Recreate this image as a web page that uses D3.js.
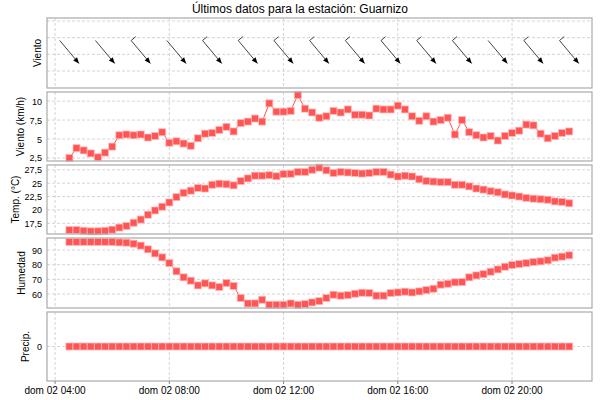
<!DOCTYPE html>
<html><head><meta charset="utf-8">
<script src="https://cdn.jsdelivr.net/npm/d3@7"></script>
<style>
body{margin:0;background:#fff}
text{font-family:"Liberation Sans",Arial,sans-serif;fill:#000}
</style></head>
<body><svg id="chart" width="600" height="400"></svg>
<script>
// readings every 15 min from dom 02 04:30
const startTime = new Date(2024, 5, 2, 4, 30);
const stepMinutes = 15;
const windSpeed = [2.5,3.8,3.5,3.1,2.6,3.2,4.0,5.5,5.6,5.5,5.6,5.2,5.4,5.9,4.5,4.7,4.4,4.1,5.1,5.7,5.8,6.2,6.6,6.0,7.1,7.3,7.7,7.3,9.7,8.6,8.6,8.7,10.8,
  9.0,8.5,7.8,8.0,8.7,8.5,8.9,8.2,8.2,8.1,9.0,8.9,8.9,9.4,8.9,8.0,7.4,8.0,7.3,7.5,7.8,5.6,7.5,5.9,5.5,5.2,5.4,4.8,5.4,5.8,6.1,6.9,6.8,5.7,5.1,5.4,5.8,6.0];
const temperature = [16.25,16.25,16.1,16.0,16.0,16.1,16.3,16.7,17.0,17.6,18.2,19.1,19.9,20.6,21.4,22.4,23.2,23.6,24.1,24.0,24.7,24.9,24.8,24.6,25.4,25.9,26.4,26.4,26.5,26.3,26.7,26.75,27.1,
  27.1,27.5,27.9,27.4,26.9,27.1,27.0,26.9,26.8,26.9,27.1,27.1,26.6,26.25,26.4,26.25,25.75,25.4,25.3,25.2,25.2,24.7,24.7,24.4,24.0,23.8,23.5,23.3,22.9,22.7,22.5,22.25,22.1,22.0,21.9,21.6,21.5,21.25];
const humidity = [95.5,95.5,95.5,95.5,95.5,95.5,95.5,95.2,95,94.3,93,90.5,87.7,85,81.1,75.5,71.4,69.1,65.9,67.3,65.9,64.8,67.5,65.5,57.3,53.6,53.6,56.1,52.7,52.7,52.7,53.6,52.7,
  53.2,54.3,55.2,57.3,59.5,58.9,59.3,60.2,60.9,60.7,58.9,58.9,60.7,61.1,61.6,61.1,61.8,62.7,63.6,66.4,67,68,68.2,71.4,72.7,73.6,75.2,76.8,78.6,79.8,80.5,81.1,81.8,82.3,83,84.8,85.5,86.4];
const precipitation = windSpeed.map(() => 0);
// wind direction (degrees, from) every 5th reading
const windDir = [320,320,320,320,320,320,320,320,320,320,320,320,320,320,320];
const xTicks = [new Date(2024,5,2,4), new Date(2024,5,2,8), new Date(2024,5,2,12), new Date(2024,5,2,16), new Date(2024,5,2,20)];

const times = windSpeed.map((d, i) => new Date(startTime.getTime() + i * stepMinutes * 60000));
const svg = d3.select("#chart");
const left = 47, right = 592;
const x = d3.scaleTime().domain([new Date(2024,5,2,3,43), new Date(2024,5,2,22,48)]).range([left, right]);
const red = "#ff5555";

svg.append("text").attr("x", 300).attr("y", 13).attr("text-anchor", "middle")
  .style("font-size", "12px").text("Últimos datos para la estación: Guarnizo");

const panels = [
  {top: 18, bottom: 88, label: "Viento", domain: [-1.02, 3.18], ticks: [0,1,2,3], showTicks: false, lx: 41},
  {top: 92, bottom: 161, label: "Viento (km/h)", domain: [2.1, 11.2], ticks: [2.5,5,7.5,10], data: windSpeed, lx: 24},
  {top: 165, bottom: 234, label: "Temp. (°C)", domain: [15.5, 28.4], ticks: [17.5,20,22.5,25,27.5], data: temperature, lx: 19},
  {top: 238, bottom: 308, label: "Humedad", domain: [50.5, 98.2], ticks: [60,70,80,90], data: humidity, lx: 25},
  {top: 312, bottom: 381, label: "Precip.", domain: [-1, 1], ticks: [0], data: precipitation, lx: 29}
];

panels.forEach(p => {
  const y = d3.scaleLinear().domain(p.domain).range([p.bottom, p.top]);
  const g = svg.append("g");
  g.selectAll(".vg").data(xTicks).enter().append("line")
    .attr("x1", d => x(d)).attr("x2", d => x(d)).attr("y1", p.top).attr("y2", p.bottom)
    .attr("stroke", "#d4d4d4").attr("stroke-dasharray", "3,2");
  g.selectAll(".hg").data(p.ticks).enter().append("line")
    .attr("x1", left).attr("x2", right).attr("y1", d => y(d)).attr("y2", d => y(d))
    .attr("stroke", "#d4d4d4").attr("stroke-dasharray", "3,2");
  if (p.showTicks !== false) {
    g.selectAll(".tl").data(p.ticks).enter().append("text")
      .attr("x", left - 5).attr("y", d => y(d) + 3.5).attr("text-anchor", "end")
      .style("font-size", "9px").text(d => String(d).replace(".", ","));
  }
  g.append("text").attr("transform", `translate(${p.lx},${(p.top + p.bottom) / 2}) rotate(-90)`)
    .attr("text-anchor", "middle").style("font-size", "10px").text(p.label);
  if (p.data) {
    const line = d3.line().x((d, i) => x(times[i])).y(d => y(d));
    g.append("path").datum(p.data).attr("d", line).attr("fill", "none").attr("stroke", red).attr("stroke-width", 1);
    g.selectAll(".pt").data(p.data).enter().append("rect")
      .attr("x", (d, i) => x(times[i]) - 3.5).attr("y", d => y(d) - 3.5)
      .attr("width", 7).attr("height", 7).attr("fill", red)
      .attr("stroke", "#ffbbbb").attr("stroke-width", 1).attr("stroke-opacity", 0.7);
  } else {
    // wind direction arrows
    const cy = (p.top + p.bottom) / 2 - 1;
    const len = 30;
    windDir.forEach((dir, k) => {
      const i = k * 5;
      const cx = x(times[i]);
      const a = (dir + 180) * Math.PI / 180; // direction wind blows to
      const dx = Math.sin(a) * len / 2, dy = -Math.cos(a) * len / 2;
      const x1 = cx - dx, y1 = cy - dy, x2 = cx + dx, y2 = cy + dy;
      g.append("line").attr("x1", x1).attr("y1", y1).attr("x2", x2).attr("y2", y2)
        .attr("stroke", "#444").attr("stroke-width", 1);
      const ux = dx / (len / 2), uy = dy / (len / 2);
      const hx = x2, hy = y2, bl = 6, bw = 2.5;
      g.append("path").attr("d", `M${hx},${hy} L${hx - ux*bl - uy*bw},${hy - uy*bl + ux*bw} L${hx - ux*bl + uy*bw},${hy - uy*bl - ux*bw} Z`)
        .attr("fill", "#000");
      if (windSpeed[i] >= 5) {
        g.append("line").attr("x1", x1).attr("y1", y1)
          .attr("x2", x1 + uy * 6).attr("y2", y1 - ux * 6)
          .attr("stroke", "#444").attr("stroke-width", 1);
      }
    });
  }
  g.append("rect").attr("x", left).attr("y", p.top).attr("width", right - left).attr("height", p.bottom - p.top)
    .attr("fill", "none").attr("stroke", "#aaa").attr("stroke-width", 1.2);
});

const xfmt = d3.timeFormat("%H:%M");
const last = panels[panels.length - 1];
svg.selectAll(".xt").data(xTicks).enter().append("line")
  .attr("x1", d => x(d)).attr("x2", d => x(d)).attr("y1", last.bottom).attr("y2", last.bottom + 3)
  .attr("stroke", "#888");
svg.selectAll(".xl").data(xTicks).enter().append("text")
  .attr("x", d => x(d)).attr("y", 394).attr("text-anchor", "middle")
  .style("font-size", "10px").text(d => "dom 02 " + xfmt(d));
</script></body></html>
